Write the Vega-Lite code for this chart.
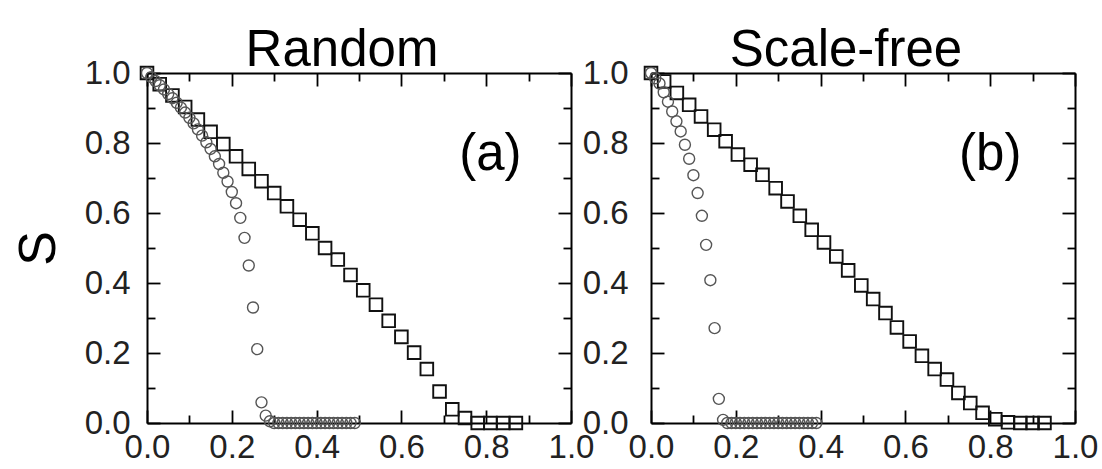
{
  "$schema": "https://vega.github.io/schema/vega-lite/v6.json",
  "background": "white",
  "padding": {"left": 12, "top": 25, "right": 0, "bottom": 0},
  "bounds": "flush",
  "spacing": 80,
  "config": {
    "view": {"stroke": null},
    "font": "Liberation Sans",
    "axis": {
      "grid": false,
      "domainColor": "#000",
      "domainWidth": 2,
      "tickColor": "#000",
      "tickWidth": 1.8,
      "labelFont": "Liberation Sans",
      "labelFontSize": 33,
      "labelColor": "#222",
      "labelOverlap": false,
      "labelFlush": false,
      "titleFont": "Liberation Sans",
      "titleFontWeight": "normal",
      "titleColor": "#000"
    },
    "title": {"font": "Liberation Sans", "fontSize": 51, "fontWeight": "normal", "color": "#000", "baseline": "alphabetic", "offset": -20, "anchor": "middle", "frame": "group", "dx": -17}
  },
  "datasets": {
    "random": [
      {"x": 0.00, "S": 1.000, "strategy": "random removal"},
      {"x": 0.03, "S": 0.968, "strategy": "random removal"},
      {"x": 0.06, "S": 0.936, "strategy": "random removal"},
      {"x": 0.09, "S": 0.903, "strategy": "random removal"},
      {"x": 0.12, "S": 0.867, "strategy": "random removal"},
      {"x": 0.15, "S": 0.832, "strategy": "random removal"},
      {"x": 0.18, "S": 0.797, "strategy": "random removal"},
      {"x": 0.21, "S": 0.762, "strategy": "random removal"},
      {"x": 0.24, "S": 0.726, "strategy": "random removal"},
      {"x": 0.27, "S": 0.691, "strategy": "random removal"},
      {"x": 0.30, "S": 0.657, "strategy": "random removal"},
      {"x": 0.33, "S": 0.619, "strategy": "random removal"},
      {"x": 0.36, "S": 0.581, "strategy": "random removal"},
      {"x": 0.39, "S": 0.542, "strategy": "random removal"},
      {"x": 0.42, "S": 0.500, "strategy": "random removal"},
      {"x": 0.45, "S": 0.467, "strategy": "random removal"},
      {"x": 0.48, "S": 0.423, "strategy": "random removal"},
      {"x": 0.51, "S": 0.379, "strategy": "random removal"},
      {"x": 0.54, "S": 0.338, "strategy": "random removal"},
      {"x": 0.57, "S": 0.292, "strategy": "random removal"},
      {"x": 0.60, "S": 0.246, "strategy": "random removal"},
      {"x": 0.63, "S": 0.201, "strategy": "random removal"},
      {"x": 0.66, "S": 0.154, "strategy": "random removal"},
      {"x": 0.69, "S": 0.090, "strategy": "random removal"},
      {"x": 0.72, "S": 0.039, "strategy": "random removal"},
      {"x": 0.75, "S": 0.014, "strategy": "random removal"},
      {"x": 0.78, "S": 0.000, "strategy": "random removal"},
      {"x": 0.81, "S": 0.000, "strategy": "random removal"},
      {"x": 0.84, "S": 0.000, "strategy": "random removal"},
      {"x": 0.87, "S": 0.000, "strategy": "random removal"},
      {"x": 0.00, "S": 1.000, "strategy": "targeted removal"},
      {"x": 0.01, "S": 0.988, "strategy": "targeted removal"},
      {"x": 0.02, "S": 0.977, "strategy": "targeted removal"},
      {"x": 0.03, "S": 0.965, "strategy": "targeted removal"},
      {"x": 0.04, "S": 0.953, "strategy": "targeted removal"},
      {"x": 0.05, "S": 0.940, "strategy": "targeted removal"},
      {"x": 0.06, "S": 0.928, "strategy": "targeted removal"},
      {"x": 0.07, "S": 0.915, "strategy": "targeted removal"},
      {"x": 0.08, "S": 0.901, "strategy": "targeted removal"},
      {"x": 0.09, "S": 0.887, "strategy": "targeted removal"},
      {"x": 0.10, "S": 0.872, "strategy": "targeted removal"},
      {"x": 0.11, "S": 0.856, "strategy": "targeted removal"},
      {"x": 0.12, "S": 0.839, "strategy": "targeted removal"},
      {"x": 0.13, "S": 0.821, "strategy": "targeted removal"},
      {"x": 0.14, "S": 0.802, "strategy": "targeted removal"},
      {"x": 0.15, "S": 0.783, "strategy": "targeted removal"},
      {"x": 0.16, "S": 0.762, "strategy": "targeted removal"},
      {"x": 0.17, "S": 0.740, "strategy": "targeted removal"},
      {"x": 0.18, "S": 0.715, "strategy": "targeted removal"},
      {"x": 0.19, "S": 0.690, "strategy": "targeted removal"},
      {"x": 0.20, "S": 0.660, "strategy": "targeted removal"},
      {"x": 0.21, "S": 0.628, "strategy": "targeted removal"},
      {"x": 0.22, "S": 0.586, "strategy": "targeted removal"},
      {"x": 0.23, "S": 0.529, "strategy": "targeted removal"},
      {"x": 0.24, "S": 0.450, "strategy": "targeted removal"},
      {"x": 0.25, "S": 0.330, "strategy": "targeted removal"},
      {"x": 0.26, "S": 0.211, "strategy": "targeted removal"},
      {"x": 0.27, "S": 0.059, "strategy": "targeted removal"},
      {"x": 0.28, "S": 0.021, "strategy": "targeted removal"},
      {"x": 0.29, "S": 0.005, "strategy": "targeted removal"},
      {"x": 0.30, "S": 0, "strategy": "targeted removal"},
      {"x": 0.31, "S": 0, "strategy": "targeted removal"},
      {"x": 0.32, "S": 0, "strategy": "targeted removal"},
      {"x": 0.33, "S": 0, "strategy": "targeted removal"},
      {"x": 0.34, "S": 0, "strategy": "targeted removal"},
      {"x": 0.35, "S": 0, "strategy": "targeted removal"},
      {"x": 0.36, "S": 0, "strategy": "targeted removal"},
      {"x": 0.37, "S": 0, "strategy": "targeted removal"},
      {"x": 0.38, "S": 0, "strategy": "targeted removal"},
      {"x": 0.39, "S": 0, "strategy": "targeted removal"},
      {"x": 0.40, "S": 0, "strategy": "targeted removal"},
      {"x": 0.41, "S": 0, "strategy": "targeted removal"},
      {"x": 0.42, "S": 0, "strategy": "targeted removal"},
      {"x": 0.43, "S": 0, "strategy": "targeted removal"},
      {"x": 0.44, "S": 0, "strategy": "targeted removal"},
      {"x": 0.45, "S": 0, "strategy": "targeted removal"},
      {"x": 0.46, "S": 0, "strategy": "targeted removal"},
      {"x": 0.47, "S": 0, "strategy": "targeted removal"},
      {"x": 0.48, "S": 0, "strategy": "targeted removal"},
      {"x": 0.49, "S": 0, "strategy": "targeted removal"}
    ],
    "scalefree": [
      {"x": 0.000, "S": 1.000, "strategy": "random removal"},
      {"x": 0.031, "S": 0.976, "strategy": "random removal"},
      {"x": 0.061, "S": 0.943, "strategy": "random removal"},
      {"x": 0.090, "S": 0.909, "strategy": "random removal"},
      {"x": 0.118, "S": 0.876, "strategy": "random removal"},
      {"x": 0.149, "S": 0.838, "strategy": "random removal"},
      {"x": 0.176, "S": 0.805, "strategy": "random removal"},
      {"x": 0.205, "S": 0.767, "strategy": "random removal"},
      {"x": 0.235, "S": 0.738, "strategy": "random removal"},
      {"x": 0.263, "S": 0.709, "strategy": "random removal"},
      {"x": 0.294, "S": 0.671, "strategy": "random removal"},
      {"x": 0.322, "S": 0.633, "strategy": "random removal"},
      {"x": 0.351, "S": 0.592, "strategy": "random removal"},
      {"x": 0.379, "S": 0.552, "strategy": "random removal"},
      {"x": 0.408, "S": 0.516, "strategy": "random removal"},
      {"x": 0.437, "S": 0.476, "strategy": "random removal"},
      {"x": 0.465, "S": 0.436, "strategy": "random removal"},
      {"x": 0.496, "S": 0.393, "strategy": "random removal"},
      {"x": 0.524, "S": 0.354, "strategy": "random removal"},
      {"x": 0.553, "S": 0.314, "strategy": "random removal"},
      {"x": 0.580, "S": 0.273, "strategy": "random removal"},
      {"x": 0.610, "S": 0.233, "strategy": "random removal"},
      {"x": 0.639, "S": 0.192, "strategy": "random removal"},
      {"x": 0.669, "S": 0.154, "strategy": "random removal"},
      {"x": 0.698, "S": 0.124, "strategy": "random removal"},
      {"x": 0.725, "S": 0.086, "strategy": "random removal"},
      {"x": 0.753, "S": 0.057, "strategy": "random removal"},
      {"x": 0.782, "S": 0.029, "strategy": "random removal"},
      {"x": 0.812, "S": 0.011, "strategy": "random removal"},
      {"x": 0.842, "S": 0.002, "strategy": "random removal"},
      {"x": 0.871, "S": 0.000, "strategy": "random removal"},
      {"x": 0.900, "S": 0.000, "strategy": "random removal"},
      {"x": 0.928, "S": 0.000, "strategy": "random removal"},
      {"x": 0.00, "S": 1.000, "strategy": "targeted removal"},
      {"x": 0.01, "S": 0.985, "strategy": "targeted removal"},
      {"x": 0.02, "S": 0.970, "strategy": "targeted removal"},
      {"x": 0.03, "S": 0.945, "strategy": "targeted removal"},
      {"x": 0.04, "S": 0.918, "strategy": "targeted removal"},
      {"x": 0.05, "S": 0.890, "strategy": "targeted removal"},
      {"x": 0.06, "S": 0.862, "strategy": "targeted removal"},
      {"x": 0.07, "S": 0.833, "strategy": "targeted removal"},
      {"x": 0.08, "S": 0.795, "strategy": "targeted removal"},
      {"x": 0.09, "S": 0.755, "strategy": "targeted removal"},
      {"x": 0.10, "S": 0.708, "strategy": "targeted removal"},
      {"x": 0.11, "S": 0.657, "strategy": "targeted removal"},
      {"x": 0.12, "S": 0.592, "strategy": "targeted removal"},
      {"x": 0.13, "S": 0.509, "strategy": "targeted removal"},
      {"x": 0.14, "S": 0.408, "strategy": "targeted removal"},
      {"x": 0.15, "S": 0.271, "strategy": "targeted removal"},
      {"x": 0.16, "S": 0.069, "strategy": "targeted removal"},
      {"x": 0.17, "S": 0.009, "strategy": "targeted removal"},
      {"x": 0.18, "S": 0, "strategy": "targeted removal"},
      {"x": 0.19, "S": 0, "strategy": "targeted removal"},
      {"x": 0.20, "S": 0, "strategy": "targeted removal"},
      {"x": 0.21, "S": 0, "strategy": "targeted removal"},
      {"x": 0.22, "S": 0, "strategy": "targeted removal"},
      {"x": 0.23, "S": 0, "strategy": "targeted removal"},
      {"x": 0.24, "S": 0, "strategy": "targeted removal"},
      {"x": 0.25, "S": 0, "strategy": "targeted removal"},
      {"x": 0.26, "S": 0, "strategy": "targeted removal"},
      {"x": 0.27, "S": 0, "strategy": "targeted removal"},
      {"x": 0.28, "S": 0, "strategy": "targeted removal"},
      {"x": 0.29, "S": 0, "strategy": "targeted removal"},
      {"x": 0.30, "S": 0, "strategy": "targeted removal"},
      {"x": 0.31, "S": 0, "strategy": "targeted removal"},
      {"x": 0.32, "S": 0, "strategy": "targeted removal"},
      {"x": 0.33, "S": 0, "strategy": "targeted removal"},
      {"x": 0.34, "S": 0, "strategy": "targeted removal"},
      {"x": 0.35, "S": 0, "strategy": "targeted removal"},
      {"x": 0.36, "S": 0, "strategy": "targeted removal"},
      {"x": 0.37, "S": 0, "strategy": "targeted removal"},
      {"x": 0.38, "S": 0, "strategy": "targeted removal"},
      {"x": 0.39, "S": 0, "strategy": "targeted removal"}
    ]
  },
  "hconcat": [
    {
      "width": 424,
      "height": 350,
      "title": {"text": "Random"},
      "data": {"name": "random"},
      "layer": [
        {
          "transform": [{"filter": "datum.strategy === 'random removal'"}],
          "mark": {"type": "point", "shape": "square", "filled": false, "size": 160, "strokeWidth": 1.9, "stroke": "#111", "opacity": 1},
          "encoding": {
            "x": {"field": "x", "type": "quantitative", "scale": {"domain": [0, 1], "nice": false, "zero": false},
              "axis": {"orient": "bottom", "title": null, "values": [0, 0.1, 0.2, 0.3, 0.4, 0.5, 0.6, 0.7, 0.8, 0.9, 1.0],
                "labelExpr": "round(datum.value*10) % 2 === 0 ? format(datum.value, '.1f') : ''",
                "tickSize": {"condition": {"test": "round(datum.value*10) % 2 === 0", "value": -13}, "value": -8},
                "labelPadding": 21}},
            "y": {"field": "S", "type": "quantitative", "scale": {"domain": [0, 1], "nice": false, "zero": false},
              "axis": {"orient": "left", "title": "S", "titleFontSize": 52, "titlePadding": 19, "values": [0, 0.1, 0.2, 0.3, 0.4, 0.5, 0.6, 0.7, 0.8, 0.9, 1.0],
                "labelExpr": "round(datum.value*10) % 2 === 0 ? format(datum.value, '.1f') : ''",
                "tickSize": {"condition": {"test": "round(datum.value*10) % 2 === 0", "value": -13}, "value": -8},
                "labelPadding": 30}}
          }
        },
        {
          "transform": [{"filter": "datum.strategy === 'targeted removal'"}],
          "mark": {"type": "point", "shape": "circle", "filled": false, "size": 121, "strokeWidth": 1.4, "stroke": "#555", "opacity": 1},
          "encoding": {
            "x": {"field": "x", "type": "quantitative",
              "axis": {"orient": "top", "title": null, "labels": false, "values": [0, 0.1, 0.2, 0.3, 0.4, 0.5, 0.6, 0.7, 0.8, 0.9, 1.0],
                "tickSize": {"condition": {"test": "round(datum.value*10) % 2 === 0", "value": -13}, "value": -8}}},
            "y": {"field": "S", "type": "quantitative",
              "axis": {"orient": "right", "title": null, "labels": false, "values": [0, 0.1, 0.2, 0.3, 0.4, 0.5, 0.6, 0.7, 0.8, 0.9, 1.0],
                "tickSize": {"condition": {"test": "round(datum.value*10) % 2 === 0", "value": -13}, "value": -8}}}
          }
        },
        {
          "data": {"values": [{"label": "(a)"}]},
          "mark": {"type": "text", "font": "Liberation Sans", "fontSize": 51, "color": "#000", "align": "center", "baseline": "middle"},
          "encoding": {
            "x": {"datum": 0.81, "type": "quantitative", "axis": null},
            "y": {"datum": 0.767, "type": "quantitative", "axis": null},
            "text": {"field": "label"}
          }
        }
      ],
      "resolve": {"axis": {"x": "independent", "y": "independent"}}
    },
    {
      "width": 424,
      "height": 350,
      "title": {"text": "Scale-free"},
      "data": {"name": "scalefree"},
      "layer": [
        {
          "transform": [{"filter": "datum.strategy === 'random removal'"}],
          "mark": {"type": "point", "shape": "square", "filled": false, "size": 160, "strokeWidth": 1.9, "stroke": "#111", "opacity": 1},
          "encoding": {
            "x": {"field": "x", "type": "quantitative", "scale": {"domain": [0, 1], "nice": false, "zero": false},
              "axis": {"orient": "bottom", "title": null, "values": [0, 0.1, 0.2, 0.3, 0.4, 0.5, 0.6, 0.7, 0.8, 0.9, 1.0],
                "labelExpr": "round(datum.value*10) % 2 === 0 ? format(datum.value, '.1f') : ''",
                "tickSize": {"condition": {"test": "round(datum.value*10) % 2 === 0", "value": -13}, "value": -8},
                "labelPadding": 21}},
            "y": {"field": "S", "type": "quantitative", "scale": {"domain": [0, 1], "nice": false, "zero": false},
              "axis": {"orient": "left", "title": null, "values": [0, 0.1, 0.2, 0.3, 0.4, 0.5, 0.6, 0.7, 0.8, 0.9, 1.0],
                "labelExpr": "round(datum.value*10) % 2 === 0 ? format(datum.value, '.1f') : ''",
                "tickSize": {"condition": {"test": "round(datum.value*10) % 2 === 0", "value": -13}, "value": -8},
                "labelPadding": 36}}
          }
        },
        {
          "transform": [{"filter": "datum.strategy === 'targeted removal'"}],
          "mark": {"type": "point", "shape": "circle", "filled": false, "size": 121, "strokeWidth": 1.4, "stroke": "#555", "opacity": 1},
          "encoding": {
            "x": {"field": "x", "type": "quantitative",
              "axis": {"orient": "top", "title": null, "labels": false, "values": [0, 0.1, 0.2, 0.3, 0.4, 0.5, 0.6, 0.7, 0.8, 0.9, 1.0],
                "tickSize": {"condition": {"test": "round(datum.value*10) % 2 === 0", "value": -13}, "value": -8}}},
            "y": {"field": "S", "type": "quantitative",
              "axis": {"orient": "right", "title": null, "labels": false, "values": [0, 0.1, 0.2, 0.3, 0.4, 0.5, 0.6, 0.7, 0.8, 0.9, 1.0],
                "tickSize": {"condition": {"test": "round(datum.value*10) % 2 === 0", "value": -13}, "value": -8}}}
          }
        },
        {
          "data": {"values": [{"label": "(b)"}]},
          "mark": {"type": "text", "font": "Liberation Sans", "fontSize": 51, "color": "#000", "align": "center", "baseline": "middle"},
          "encoding": {
            "x": {"datum": 0.80, "type": "quantitative", "axis": null},
            "y": {"datum": 0.767, "type": "quantitative", "axis": null},
            "text": {"field": "label"}
          }
        }
      ],
      "resolve": {"axis": {"x": "independent", "y": "independent"}}
    }
  ]
}
